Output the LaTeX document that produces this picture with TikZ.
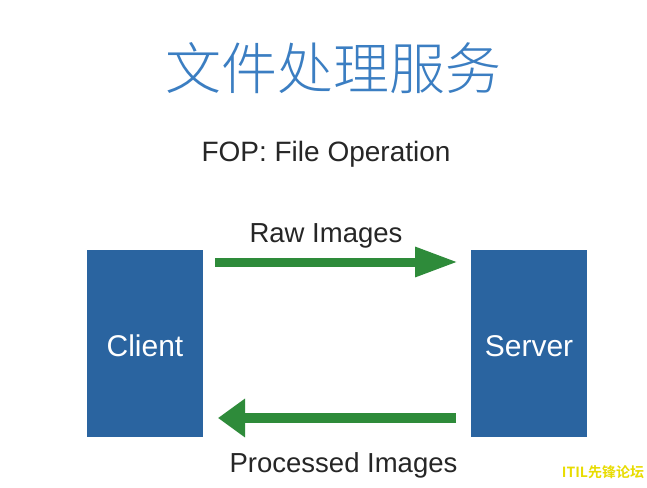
\documentclass[tikz,border=0pt]{standalone}
\usepackage{fontspec}
\setmainfont{Liberation Sans}
\newfontfamily\cjk{Noto Sans CJK SC Light}
\newfontfamily\cjkbold{Noto Sans CJK SC Bold}
\usetikzlibrary{arrows.meta}
\definecolor{boxblue}{HTML}{2A64A0}
\definecolor{titleblue}{HTML}{3B7EC2}
\definecolor{arrgreen}{HTML}{2E8B3A}
\definecolor{wmyellow}{HTML}{E8DC00}
\tikzset{
  box/.style={fill=boxblue, draw=none, minimum width=116pt, minimum height=187pt, inner sep=0pt},
  boxlabel/.style={text=white, font=\fontsize{30}{30}\selectfont, anchor=base},
  lbl/.style={text=black!85, font=\fontsize{27.5}{30}\selectfont, anchor=base, inner sep=0pt},
  flow/.style={draw=arrgreen, line width=9pt},
}
\begin{document}
\begin{tikzpicture}[x=1pt,y=-1pt]
\useasboundingbox[fill=white] (0,0) rectangle (647,487);
\node[text=titleblue, font=\cjk\fontsize{56}{60}\selectfont, inner sep=0pt] (title) at (333,68) {文件处理服务};
\node[lbl, font=\fontsize{28}{30}\selectfont] (fop) at (326,161) {FOP: File Operation};
\node[box] (client) at (145,343.5) {};
\node[box] (server) at (529,343.5) {};
\node[boxlabel] (clientt) at (145,356) {Client};
\node[boxlabel] (servert) at (529,356) {Server};
\coordinate (r1) at (215,262);
\coordinate (r2) at (458,262);
\coordinate (p1) at (456,418);
\coordinate (p2) at (218,418);
\draw[flow, -{Triangle[length=43pt,width=28pt]}] (r1) -- (r2);
\draw[flow, line width=10pt, -{Triangle[length=27pt,width=37pt]}] (p1) -- (p2);
\node[lbl] (raw) at (326,242) {Raw Images};
\node[lbl] (proc) at (343.5,472) {Processed Images};
\node[text=wmyellow, font=\cjkbold\fontsize{14}{14}\selectfont, inner sep=0pt] (wm) at (603,472) {ITIL先锋论坛};
\end{tikzpicture}
\end{document}
